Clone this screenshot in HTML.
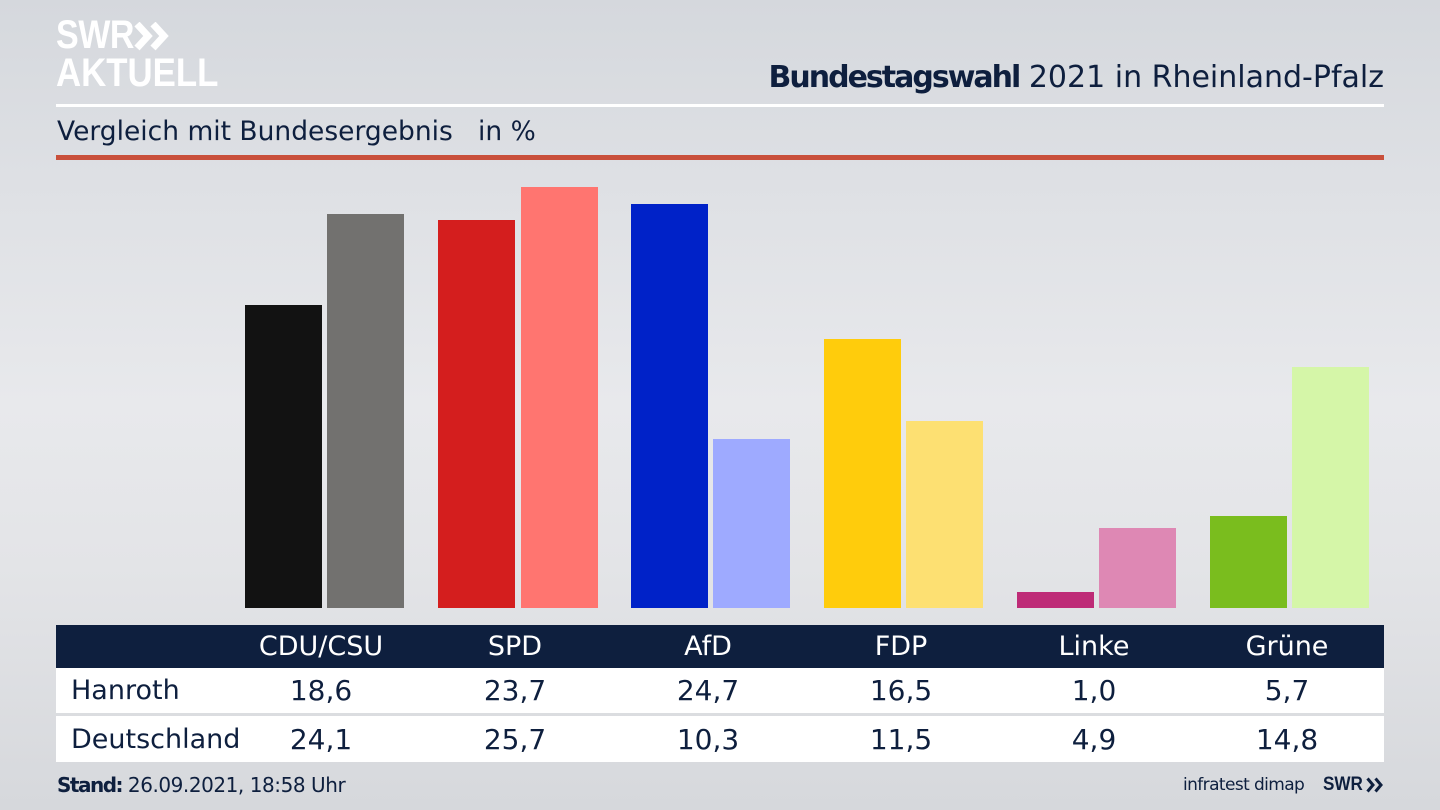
<!DOCTYPE html>
<html><head><meta charset="utf-8">
<style>
*{margin:0;padding:0;box-sizing:border-box}
html,body{width:1440px;height:810px;overflow:hidden}
body{position:relative;font-family:"DejaVu Sans","Liberation Sans",sans-serif;color:#0e1f3e;
background:linear-gradient(180deg,#d5d8dd 0%,#dfe1e5 25%,#e8e9ec 50%,#e3e4e7 70%,#d6d8dc 100%);}
.abs{position:absolute;white-space:nowrap}
.bar{position:absolute;width:77px;bottom:202px}
.hd{position:absolute;top:625px;height:43px;left:56px;width:1328px;background:#0e1f3e}
.row{position:absolute;left:56px;width:1328px;background:#fff}
.c{position:absolute;width:200px;text-align:center;margin-left:-100px}
</style></head><body>

<!-- logo -->
<div class="abs" style="left:56px;top:12px;font-family:'Liberation Sans',sans-serif;font-weight:bold;font-size:40px;color:#fff;transform:scaleX(0.85);transform-origin:left top;line-height:46px;letter-spacing:-0.5px">SWR</div>
<svg class="abs" style="left:134px;top:22px" width="40" height="30" viewBox="0 0 40 30">
<polyline points="3,2 14,14 3,26" fill="none" stroke="#fff" stroke-width="7"/>
<polyline points="19,2 30,14 19,26" fill="none" stroke="#fff" stroke-width="7"/>
</svg>
<div class="abs" style="left:56px;top:50px;font-family:'Liberation Sans',sans-serif;font-weight:bold;font-size:40px;color:#fff;transform:scaleX(0.87);transform-origin:left top;line-height:46px">AKTUELL</div>

<!-- title -->
<div class="abs" style="right:56px;top:58px;font-size:30px;line-height:40px;color:#0e1f3e"><b style="letter-spacing:-2px">Bundestagswahl</b> 2021 in Rheinland-Pfalz</div>
<div class="abs" style="left:56px;top:104px;width:1328px;height:3px;background:#fff"></div>
<div class="abs" style="left:57px;top:113px;font-size:26.5px;line-height:38px;color:#0e1f3e">Vergleich mit Bundesergebnis&nbsp;&nbsp;&nbsp;in %</div>
<div class="abs" style="left:56px;top:155px;width:1328px;height:5px;background:#c9503b"></div>

<!-- bars -->
<div class="bar" style="left:245px;top:305px;background:#121212"></div>
<div class="bar" style="left:327px;top:214px;background:#72716f"></div>
<div class="bar" style="left:438px;top:220px;background:#d41e1e"></div>
<div class="bar" style="left:521px;top:187px;background:#ff7570"></div>
<div class="bar" style="left:631px;top:204px;background:#0022c8"></div>
<div class="bar" style="left:713px;top:439px;background:#9eaaff"></div>
<div class="bar" style="left:824px;top:339px;background:#ffcc0c"></div>
<div class="bar" style="left:906px;top:421px;background:#fde072"></div>
<div class="bar" style="left:1017px;top:592px;background:#be2b77"></div>
<div class="bar" style="left:1099px;top:528px;background:#de88b4"></div>
<div class="bar" style="left:1210px;top:516px;background:#7abd1e"></div>
<div class="bar" style="left:1292px;top:367px;background:#d5f6a8"></div>

<!-- table -->
<div class="hd"></div>
<div class="row" style="top:668px;height:45px"></div>
<div class="row" style="top:716px;height:46px"></div>

<div class="abs" style="left:0;top:628px;width:1440px;height:38px;font-size:27px;line-height:38px;color:#fff">
<span class="c" style="left:321px">CDU/CSU</span>
<span class="c" style="left:515px">SPD</span>
<span class="c" style="left:708px">AfD</span>
<span class="c" style="left:901px">FDP</span>
<span class="c" style="left:1094px">Linke</span>
<span class="c" style="left:1287px">Grüne</span>
</div>
<div class="abs" style="left:0;top:671px;width:1440px;height:40px;font-size:27px;line-height:40px;color:#0e1f3e">
<span class="abs" style="left:71px">Hanroth</span>
<span class="c" style="left:321px;font-size:28px">18,6</span>
<span class="c" style="left:515px;font-size:28px">23,7</span>
<span class="c" style="left:708px;font-size:28px">24,7</span>
<span class="c" style="left:901px;font-size:28px">16,5</span>
<span class="c" style="left:1094px;font-size:28px">1,0</span>
<span class="c" style="left:1287px;font-size:28px">5,7</span>
</div>
<div class="abs" style="left:0;top:720px;width:1440px;height:40px;font-size:27px;line-height:40px;color:#0e1f3e">
<span class="abs" style="left:71px">Deutschland</span>
<span class="c" style="left:321px;font-size:28px">24,1</span>
<span class="c" style="left:515px;font-size:28px">25,7</span>
<span class="c" style="left:708px;font-size:28px">10,3</span>
<span class="c" style="left:901px;font-size:28px">11,5</span>
<span class="c" style="left:1094px;font-size:28px">4,9</span>
<span class="c" style="left:1287px;font-size:28px">14,8</span>
</div>

<!-- footer -->
<div class="abs" style="left:57px;top:771px;font-size:20px;line-height:28px;color:#0e1f3e"><b style="letter-spacing:-1.5px">Stand:</b><span style="letter-spacing:-0.45px"> 26.09.2021, 18:58 Uhr</span></div>
<div class="abs" style="left:1183px;top:772px;font-size:17px;line-height:26px;color:#0e1f3e;letter-spacing:-0.6px">infratest dimap</div>
<div class="abs" style="left:1323px;top:772px;font-family:'Liberation Sans',sans-serif;font-weight:bold;font-size:19px;line-height:26px;color:#0e1f3e;transform:scaleX(0.9);transform-origin:left top">SWR</div>
<svg class="abs" style="left:1366px;top:777px" width="18" height="16" viewBox="0 0 18 16">
<polyline points="1.5,1.5 7,8 1.5,14.5" fill="none" stroke="#0e1f3e" stroke-width="3"/>
<polyline points="9.5,1.5 15,8 9.5,14.5" fill="none" stroke="#0e1f3e" stroke-width="3"/>
</svg>
</body></html>
